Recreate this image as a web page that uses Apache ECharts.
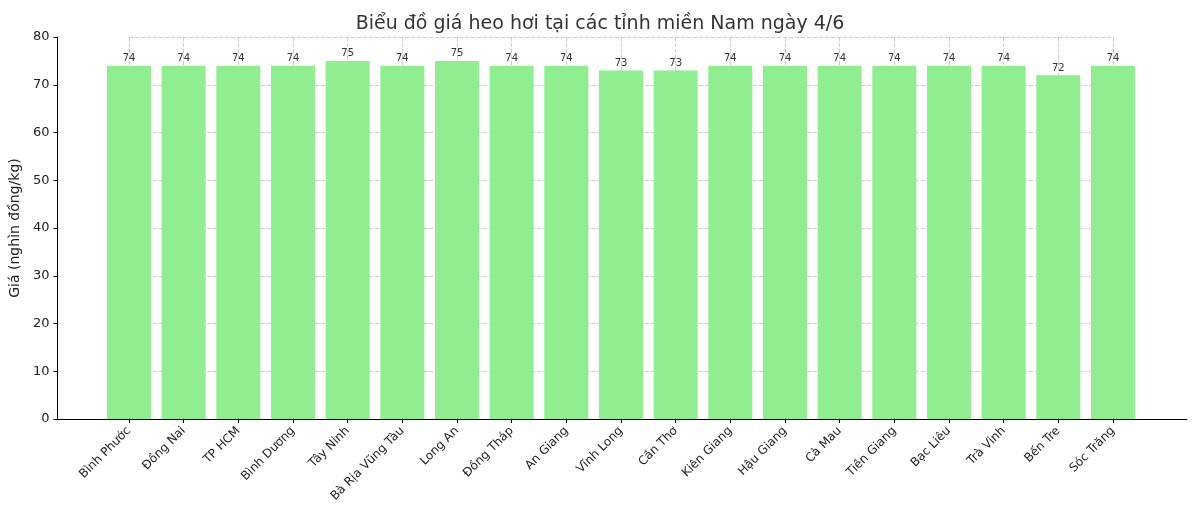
<!DOCTYPE html>
<html><head><meta charset="utf-8">
<script src="https://cdn.jsdelivr.net/npm/echarts@6/dist/echarts.min.js"></script>
<style>html,body{margin:0;padding:0;background:#fff}#c{width:1200px;height:514px}</style>
</head><body><div id="c"></div>
<script>
var provinces = ['Bình Phước','Đồng Nai','TP HCM','Bình Dương','Tây Ninh','Bà Rịa Vũng Tàu','Long An','Đồng Tháp','An Giang','Vĩnh Long','Cần Thơ','Kiên Giang','Hậu Giang','Cà Mau','Tiền Giang','Bạc Liêu','Trà Vinh','Bến Tre','Sóc Trăng'];
var prices = [74,74,74,74,75,74,75,74,74,73,73,74,74,74,74,74,74,72,74];

var chart = echarts.init(document.getElementById('c'));
var font = 'DejaVu Sans';
chart.setOption({
    animation: false,
    textStyle: {fontFamily: font},
    title: {text: 'Biểu đồ giá heo hơi tại các tỉnh miền Nam ngày 4/6', left: 'center', top: 10,
        textStyle: {fontFamily: font, fontSize: 19, fontWeight: 'normal', color: '#333'}},
    grid: [
        {left: 129, right: 87, top: 37, bottom: 95},
        {left: 57, right: 13, top: 37, bottom: 95}
    ],
    xAxis: [
        {type: 'category', data: provinces, boundaryGap: false, gridIndex: 0,
            axisLine: {show: false},
            axisTick: {show: true, length: 4, lineStyle: {color: '#000'}},
            axisLabel: {rotate: 45, fontSize: 12, color: '#222', interval: 0, margin: 10},
            splitLine: {show: true, lineStyle: {type: 'dashed', color: '#ccc'}}},
        {type: 'value', gridIndex: 1, min: 0, max: 1,
            axisLine: {show: true, lineStyle: {color: '#000'}},
            axisTick: {show: false}, axisLabel: {show: false}, splitLine: {show: false}}
    ],
    yAxis: [
        {type: 'value', min: 0, max: 80, interval: 10, gridIndex: 0,
            axisLine: {show: false}, axisTick: {show: false}, axisLabel: {show: false},
            splitLine: {show: true, lineStyle: {type: 'dashed', color: '#ccc'}}},
        {type: 'value', min: 0, max: 80, interval: 10, gridIndex: 1,
            name: 'Giá (nghìn đồng/kg)', nameLocation: 'middle', nameGap: 30,
            nameTextStyle: {fontSize: 14, color: '#222'},
            axisLine: {show: true, lineStyle: {color: '#000'}},
            axisTick: {show: true, length: 4},
            axisLabel: {fontSize: 13, color: '#222'},
            splitLine: {show: false}}
    ],
    series: [{
        type: 'bar', data: prices, xAxisIndex: 0, yAxisIndex: 0, barWidth: 44,
        itemStyle: {color: '#90EE90'},
        label: {show: true, position: 'top', distance: 2, fontSize: 10, color: '#333'}
    }]
});
</script></body></html>
